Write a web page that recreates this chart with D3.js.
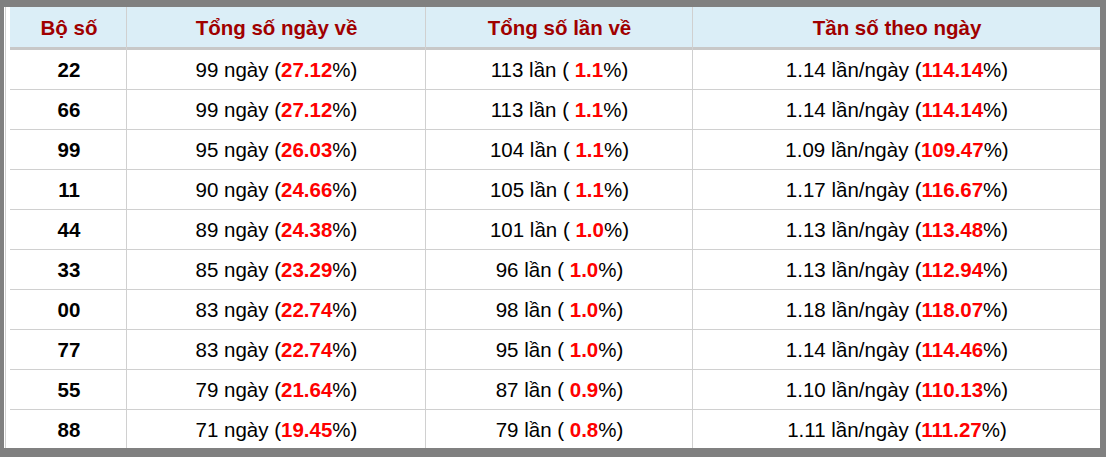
<!DOCTYPE html><html><head><meta charset="utf-8"><script src="https://d3js.org/d3.v7.min.js"></script>
<style>body{margin:0;background:#808080}svg{display:block}</style></head><body><svg id="c" width="1106" height="457"></svg>
<script>
const headers=["Bộ số","Tổng số ngày về","Tổng số lần về","Tần số theo ngày"];
const boSo=["22","66","99","11","44","33","00","77","55","88"];
const ngay=[99,99,95,90,89,85,83,83,79,71];
const ngayPct=["27.12","27.12","26.03","24.66","24.38","23.29","22.74","22.74","21.64","19.45"];
const lan=[113,113,104,105,101,96,98,95,87,79];
const lanPct=["1.1","1.1","1.1","1.1","1.0","1.0","1.0","1.0","0.9","0.8"];
const tanSo=["1.14","1.14","1.09","1.17","1.13","1.13","1.18","1.14","1.10","1.11"];
const tanPct=["114.14","114.14","109.47","116.67","113.48","112.94","118.07","114.46","110.13","111.27"];
const svg=d3.select("#c");
const colEdges=[10,126,425,692,1100];
const y=d3.scaleBand().domain(d3.range(10)).range([50,450]);
svg.append("rect").attr("x",4).attr("y",7).attr("width",1096).attr("height",441).attr("fill","#fff");
svg.append("rect").attr("x",10).attr("y",7).attr("width",1090).attr("height",40).attr("fill","#dbeef7");
svg.append("rect").attr("x",10).attr("y",47).attr("width",1090).attr("height",3).attr("fill","#c8c8c8");
for(let i=1;i<10;i++)svg.append("line").attr("x1",10).attr("x2",1100).attr("y1",y(i)-0.5).attr("y2",y(i)-0.5).attr("stroke","#d0d0d0");
[5,126,425,692].forEach(x=>svg.append("line").attr("x1",x+0.5).attr("x2",x+0.5).attr("y1",7).attr("y2",448).attr("stroke","#d0d0d0"));
const cx=i=>(colEdges[i]+colEdges[i+1])/2+1;
const F="Arial, 'Liberation Sans', sans-serif";
const FS=20.5;
headers.forEach((h,i)=>svg.append("text").attr("x",cx(i)).attr("y",35).attr("text-anchor","middle").attr("font-family",F).attr("font-size",FS).attr("font-weight","bold").attr("fill","#a00000").text(h));
function cell(i,r,parts){const t=svg.append("text").attr("x",cx(i)).attr("y",y(r)+27).attr("text-anchor","middle").attr("font-family",F).attr("font-size",FS).attr("fill","#000");
parts.forEach(p=>t.append("tspan").attr("fill",p[1]?"#ff0000":"#000").attr("font-weight",p[1]?"bold":"normal").text(p[0]));return t;}
boSo.forEach((b,r)=>{
cell(0,r,[[b,0]]).attr("font-weight","bold").select("tspan").attr("font-weight","bold");
cell(1,r,[[ngay[r]+" ngày (",0],[ngayPct[r],1],["%)",0]]);
cell(2,r,[[lan[r]+" lần ( ",0],[lanPct[r],1],["%)",0]]);
cell(3,r,[[tanSo[r]+" lần/ngày (",0],[tanPct[r],1],["%)",0]]);
});
</script></body></html>
